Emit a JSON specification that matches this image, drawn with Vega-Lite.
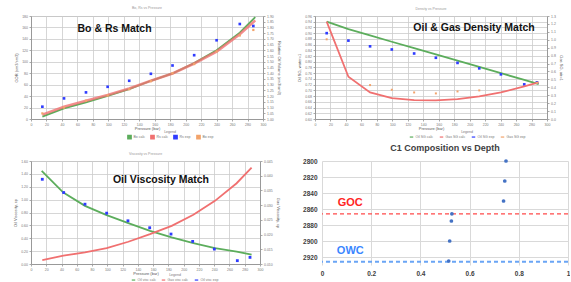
{
  "$schema": "https://vega.github.io/schema/vega-lite/v6.json",
  "background": "white",
  "padding": {"left": 13, "top": 5, "right": 0, "bottom": 0},
  "spacing": 1,
  "bounds": "full",
  "resolve": {"scale": {"x": "independent", "y": "independent", "color": "independent"}, "legend": {"color": "independent"}},
  "config": {
    "font": "Liberation Sans",
    "view": {"stroke": null},
    "axis": {"labelFontSize": 3.5, "titleFontSize": 4, "labelColor": "#777", "titleColor": "#555", "titleFontWeight": "normal", "tickSize": 2, "tickColor": "#aaa", "domainColor": "#999", "gridColor": "#cccccc", "gridWidth": 0.8, "labelPadding": 1.5, "titlePadding": 3, "labelFlush": false, "labelOverlap": false},
    "axisX": {"titlePadding": 1, "labelPadding": 1},
    "legend": {"labelFontSize": 3.5, "titleFontSize": 3.5, "titleFontWeight": "normal", "labelColor": "#777", "titleColor": "#777", "symbolSize": 12, "symbolStrokeWidth": 1.2, "columnPadding": 3, "padding": 0, "direction": "horizontal", "orient": "none", "titleAnchor": "middle", "titleOrient": "top", "titlePadding": 1, "labelOffset": 1.5}
  },
  "vconcat": [
    {
      "hconcat": [
        {
          "width": 232, "height": 103,
          "title": {"text": "Bo, Rs vs Pressure", "fontSize": 3.5, "fontWeight": "normal", "color": "#999", "offset": 4},
          "view": {"stroke": "#bbb"},
          "layer": [
            {
              "data": {"values": [
                {"s": "Rs exp", "p": 14.7, "v": 21.5}, {"s": "Rs exp", "p": 42.7, "v": 36}, {"s": "Rs exp", "p": 71.1, "v": 46.5}, {"s": "Rs exp", "p": 99.1, "v": 56.3}, {"s": "Rs exp", "p": 127, "v": 66.8}, {"s": "Rs exp", "p": 155, "v": 79}, {"s": "Rs exp", "p": 183, "v": 93.5}, {"s": "Rs exp", "p": 211, "v": 111.5}, {"s": "Rs exp", "p": 240, "v": 137.6}, {"s": "Rs exp", "p": 270, "v": 166}, {"s": "Rs exp", "p": 287.5, "v": 162.6}
              ]},
              "mark": {"type": "square", "size": 7, "filled": true, "opacity": 1},
              "encoding": {
                "x": {"field": "p", "type": "quantitative", "title": "Pressure (bar)", "scale": {"domain": [0, 300], "nice": false}, "axis": {"values": [0, 20, 40, 60, 80, 100, 120, 140, 160, 180, 200, 220, 240, 260, 280, 300], "grid": true}},
                "y": {"field": "v", "type": "quantitative", "title": "GOR (sm3/sm3)", "scale": {"domain": [0, 180], "nice": false}, "axis": {"orient": "left", "values": [0, 20, 40, 60, 80, 100, 120, 140, 160, 180], "grid": true}},
                "color": {"field": "s", "type": "nominal", "scale": {"domain": ["Bo calc", "Rs calc", "Rs exp", "Bo exp"], "range": ["#5cad5c", "#f07070", "#2f3cff", "#f2a36b"]}, "legend": {"title": "Legend", "legendX": 96, "legendY": 114}}
              }
            },
            {
              "data": {"values": [
                {"s": "Bo calc", "p": 14.7, "v": 1.02}, {"s": "Bo calc", "p": 42.7, "v": 1.093}, {"s": "Bo calc", "p": 71.1, "v": 1.145}, {"s": "Bo calc", "p": 99.1, "v": 1.203}, {"s": "Bo calc", "p": 127, "v": 1.261}, {"s": "Bo calc", "p": 155, "v": 1.334}, {"s": "Bo calc", "p": 183, "v": 1.398}, {"s": "Bo calc", "p": 211, "v": 1.488}, {"s": "Bo calc", "p": 240, "v": 1.601}, {"s": "Bo calc", "p": 270, "v": 1.755}, {"s": "Bo calc", "p": 290, "v": 1.891},
                {"s": "Rs calc", "p": 14.7, "v": 1.038}, {"s": "Rs calc", "p": 42.7, "v": 1.107}, {"s": "Rs calc", "p": 71.1, "v": 1.16}, {"s": "Rs calc", "p": 99.1, "v": 1.209}, {"s": "Rs calc", "p": 127, "v": 1.267}, {"s": "Rs calc", "p": 155, "v": 1.334}, {"s": "Rs calc", "p": 183, "v": 1.398}, {"s": "Rs calc", "p": 211, "v": 1.485}, {"s": "Rs calc", "p": 240, "v": 1.589}, {"s": "Rs calc", "p": 270, "v": 1.74}, {"s": "Rs calc", "p": 290, "v": 1.862},
                {"s": "Bo exp", "p": 14.7, "v": 1.049}, {"s": "Bo exp", "p": 42.7, "v": 1.1}, {"s": "Bo exp", "p": 71.1, "v": 1.16}, {"s": "Bo exp", "p": 99.1, "v": 1.205}, {"s": "Bo exp", "p": 127, "v": 1.26}, {"s": "Bo exp", "p": 155, "v": 1.33}, {"s": "Bo exp", "p": 183, "v": 1.4}, {"s": "Bo exp", "p": 211, "v": 1.48}, {"s": "Bo exp", "p": 240, "v": 1.59}, {"s": "Bo exp", "p": 270, "v": 1.73}, {"s": "Bo exp", "p": 287.5, "v": 1.778}
              ]},
              "encoding": {
                "x": {"field": "p", "type": "quantitative", "title": "Pressure (bar)", "scale": {"domain": [0, 300], "nice": false}, "axis": {"values": [0, 20, 40, 60, 80, 100, 120, 140, 160, 180, 200, 220, 240, 260, 280, 300], "grid": true}},
                "y": {"field": "v", "type": "quantitative", "title": "Relative Oil Volume (rm3/sm3)", "scale": {"domain": [1.0, 1.9], "nice": false}, "axis": {"orient": "right", "format": ".2f", "values": [1.0, 1.05, 1.1, 1.15, 1.2, 1.25, 1.3, 1.35, 1.4, 1.45, 1.5, 1.55, 1.6, 1.65, 1.7, 1.75, 1.8, 1.85, 1.9], "grid": false}},
                "color": {"field": "s", "type": "nominal", "scale": {"domain": ["Bo calc", "Rs calc", "Rs exp", "Bo exp"], "range": ["#5cad5c", "#f07070", "#2f3cff", "#f2a36b"]}}
              },
              "layer": [
                {"transform": [{"filter": "datum.s == 'Bo calc'"}], "mark": {"type": "line", "strokeWidth": 1.8}},
                {"transform": [{"filter": "datum.s == 'Rs calc'"}], "mark": {"type": "line", "strokeWidth": 2.6, "opacity": 0.8}},
                {"transform": [{"filter": "datum.s == 'Bo exp'"}], "mark": {"type": "square", "size": 5, "filled": true, "opacity": 1}}
              ]
            },
            {"data": {"values": [{"t": "Bo & Rs Match"}]}, "mark": {"type": "text", "fontSize": 10.5, "fontWeight": "bold", "color": "#111", "align": "center", "baseline": "middle"},
             "encoding": {
               "x": {"datum": 108, "type": "quantitative", "title": "Pressure (bar)", "scale": {"domain": [0, 300], "nice": false}, "axis": {"values": [0, 20, 40, 60, 80, 100, 120, 140, 160, 180, 200, 220, 240, 260, 280, 300], "grid": true}},
               "y": {"datum": 157, "type": "quantitative", "scale": {"domain": [0, 180], "nice": false}, "axis": null},
               "text": {"field": "t", "type": "nominal"}}}
          ],
          "resolve": {"scale": {"y": "independent"}}
        },
        {
          "width": 232, "height": 103,
          "title": {"text": "Density vs Pressure", "fontSize": 3.5, "fontWeight": "normal", "color": "#999", "offset": 4},
          "view": {"stroke": "#bbb"},
          "layer": [
            {
              "data": {"values": [
                {"s": "Oil SG calc", "p": 15.1, "v": 0.94}, {"s": "Oil SG calc", "p": 43.2, "v": 0.914}, {"s": "Oil SG calc", "p": 71.2, "v": 0.892}, {"s": "Oil SG calc", "p": 99.3, "v": 0.87}, {"s": "Oil SG calc", "p": 128.2, "v": 0.848}, {"s": "Oil SG calc", "p": 156.3, "v": 0.826}, {"s": "Oil SG calc", "p": 184.3, "v": 0.804}, {"s": "Oil SG calc", "p": 212.4, "v": 0.782}, {"s": "Oil SG calc", "p": 240.4, "v": 0.76}, {"s": "Oil SG calc", "p": 270.6, "v": 0.737}, {"s": "Oil SG calc", "p": 289.2, "v": 0.722},
                {"s": "Oil SG exp", "p": 15.1, "v": 0.9}, {"s": "Oil SG exp", "p": 43.2, "v": 0.874}, {"s": "Oil SG exp", "p": 71.2, "v": 0.854}, {"s": "Oil SG exp", "p": 99.3, "v": 0.843}, {"s": "Oil SG exp", "p": 128.2, "v": 0.829}, {"s": "Oil SG exp", "p": 156.3, "v": 0.814}, {"s": "Oil SG exp", "p": 184.3, "v": 0.796}, {"s": "Oil SG exp", "p": 212.4, "v": 0.777}, {"s": "Oil SG exp", "p": 240.4, "v": 0.756}, {"s": "Oil SG exp", "p": 270.6, "v": 0.721}, {"s": "Oil SG exp", "p": 287, "v": 0.728}
              ]},
              "encoding": {
                "x": {"field": "p", "type": "quantitative", "title": "Pressure (bar)", "scale": {"domain": [0, 300], "nice": false}, "axis": {"values": [0, 20, 40, 60, 80, 100, 120, 140, 160, 180, 200, 220, 240, 260, 280, 300], "grid": true}},
                "y": {"field": "v", "type": "quantitative", "title": "Oil SG, water=1", "scale": {"domain": [0.6, 0.96], "nice": false}, "axis": {"orient": "left", "format": ".2f", "values": [0.6, 0.62, 0.64, 0.66, 0.68, 0.7, 0.72, 0.74, 0.76, 0.78, 0.8, 0.82, 0.84, 0.86, 0.88, 0.9, 0.92, 0.94, 0.96], "grid": true}},
                "color": {"field": "s", "type": "nominal", "scale": {"domain": ["Oil SG calc", "Gas SG calc", "Oil SG exp", "Gas SG exp"], "range": ["#5cad5c", "#f07070", "#2f3cff", "#f2a36b"]}, "legend": {"title": "Legend", "legendX": 94, "legendY": 114}}
              },
              "layer": [
                {"transform": [{"filter": "datum.s == 'Oil SG calc'"}], "mark": {"type": "line", "strokeWidth": 1.8}},
                {"transform": [{"filter": "datum.s == 'Oil SG exp'"}], "mark": {"type": "square", "size": 7, "filled": true, "opacity": 1}}
              ]
            },
            {
              "data": {"values": [
                {"s": "Gas SG calc", "p": 15.1, "v": 1.229}, {"s": "Gas SG calc", "p": 43.2, "v": 0.533}, {"s": "Gas SG calc", "p": 71.2, "v": 0.335}, {"s": "Gas SG calc", "p": 99.3, "v": 0.264}, {"s": "Gas SG calc", "p": 128.2, "v": 0.239}, {"s": "Gas SG calc", "p": 156.3, "v": 0.235}, {"s": "Gas SG calc", "p": 184.3, "v": 0.252}, {"s": "Gas SG calc", "p": 212.4, "v": 0.285}, {"s": "Gas SG calc", "p": 240.4, "v": 0.335}, {"s": "Gas SG calc", "p": 270.6, "v": 0.411}, {"s": "Gas SG calc", "p": 289.2, "v": 0.461},
                {"s": "Gas SG exp", "p": 15.1, "v": 1.006}, {"s": "Gas SG exp", "p": 71.2, "v": 0.428}, {"s": "Gas SG exp", "p": 99.3, "v": 0.369}, {"s": "Gas SG exp", "p": 128.2, "v": 0.335}, {"s": "Gas SG exp", "p": 156.3, "v": 0.323}, {"s": "Gas SG exp", "p": 184.3, "v": 0.348}, {"s": "Gas SG exp", "p": 212.4, "v": 0.361}, {"s": "Gas SG exp", "p": 287, "v": 0.457}
              ]},
              "encoding": {
                "x": {"field": "p", "type": "quantitative", "title": "Pressure (bar)", "scale": {"domain": [0, 300], "nice": false}, "axis": {"values": [0, 20, 40, 60, 80, 100, 120, 140, 160, 180, 200, 220, 240, 260, 280, 300], "grid": true}},
                "y": {"field": "v", "type": "quantitative", "title": "Gas SG, air=1", "scale": {"domain": [0, 1.3], "nice": false}, "axis": {"orient": "right", "format": ".1f", "values": [0, 0.1, 0.2, 0.3, 0.4, 0.5, 0.6, 0.7, 0.8, 0.9, 1.0, 1.1, 1.2, 1.3], "grid": false}},
                "color": {"field": "s", "type": "nominal", "scale": {"domain": ["Oil SG calc", "Gas SG calc", "Oil SG exp", "Gas SG exp"], "range": ["#5cad5c", "#f07070", "#2f3cff", "#f2a36b"]}}
              },
              "layer": [
                {"transform": [{"filter": "datum.s == 'Gas SG calc'"}], "mark": {"type": "line", "strokeWidth": 1.8}},
                {"transform": [{"filter": "datum.s == 'Gas SG exp'"}], "mark": {"type": "square", "size": 4, "filled": true, "opacity": 1}}
              ]
            },
            {"data": {"values": [{"t": "Oil & Gas Density Match"}]}, "mark": {"type": "text", "fontSize": 10.5, "fontWeight": "bold", "color": "#111", "align": "center", "baseline": "middle"},
             "encoding": {
               "x": {"datum": 205.6, "type": "quantitative", "title": "Pressure (bar)", "scale": {"domain": [0, 300], "nice": false}, "axis": {"values": [0, 20, 40, 60, 80, 100, 120, 140, 160, 180, 200, 220, 240, 260, 280, 300], "grid": true}},
               "y": {"datum": 0.918, "type": "quantitative", "scale": {"domain": [0.6, 0.96], "nice": false}, "axis": null},
               "text": {"field": "t", "type": "nominal"}}}
          ],
          "resolve": {"scale": {"y": "independent"}}
        }
      ],
      "spacing": 16,
      "bounds": "full",
      "resolve": {"scale": {"x": "independent", "y": "independent", "color": "independent"}, "legend": {"color": "independent"}}
    },
    {
      "hconcat": [
        {
          "width": 229, "height": 103,
          "title": {"text": "Viscosity vs Pressure", "fontSize": 3.5, "fontWeight": "normal", "color": "#999", "offset": 4},
          "view": {"stroke": "#bbb"},
          "layer": [
            {
              "data": {"values": [
                {"s": "Oil visc calc", "p": 14, "v": 1.445}, {"s": "Oil visc calc", "p": 42.4, "v": 1.11}, {"s": "Oil visc calc", "p": 70.7, "v": 0.903}, {"s": "Oil visc calc", "p": 99.1, "v": 0.759}, {"s": "Oil visc calc", "p": 127.5, "v": 0.635}, {"s": "Oil visc calc", "p": 155.9, "v": 0.516}, {"s": "Oil visc calc", "p": 184.3, "v": 0.413}, {"s": "Oil visc calc", "p": 212.7, "v": 0.325}, {"s": "Oil visc calc", "p": 241, "v": 0.248}, {"s": "Oil visc calc", "p": 269.4, "v": 0.191}, {"s": "Oil visc calc", "p": 289, "v": 0.145},
                {"s": "Oil visc exp", "p": 14.8, "v": 1.316}, {"s": "Oil visc exp", "p": 42.8, "v": 1.11}, {"s": "Oil visc exp", "p": 70.7, "v": 0.929}, {"s": "Oil visc exp", "p": 99.1, "v": 0.79}, {"s": "Oil visc exp", "p": 127, "v": 0.671}, {"s": "Oil visc exp", "p": 155.5, "v": 0.563}, {"s": "Oil visc exp", "p": 183.4, "v": 0.465}, {"s": "Oil visc exp", "p": 211.8, "v": 0.351}, {"s": "Oil visc exp", "p": 240.2, "v": 0.232}, {"s": "Oil visc exp", "p": 270.3, "v": 0.052}, {"s": "Oil visc exp", "p": 286.9, "v": 0.103}
              ]},
              "encoding": {
                "x": {"field": "p", "type": "quantitative", "title": "Pressure (bar)", "scale": {"domain": [0, 300], "nice": false}, "axis": {"values": [0, 20, 40, 60, 80, 100, 120, 140, 160, 180, 200, 220, 240, 260, 280, 300], "grid": true}},
                "y": {"field": "v", "type": "quantitative", "title": "Oil Viscosity, cp", "scale": {"domain": [0, 1.6], "nice": false}, "axis": {"orient": "left", "format": ".2f", "values": [0, 0.2, 0.4, 0.6, 0.8, 1.0, 1.2, 1.4, 1.6], "grid": true}},
                "color": {"field": "s", "type": "nominal", "scale": {"domain": ["Oil visc calc", "Gas visc calc", "Oil visc exp"], "range": ["#5cad5c", "#f07070", "#2f3cff"]}, "legend": {"title": "Legend", "legendX": 100, "legendY": 112}}
              },
              "layer": [
                {"transform": [{"filter": "datum.s == 'Oil visc calc'"}], "mark": {"type": "line", "strokeWidth": 1.8}},
                {"transform": [{"filter": "datum.s == 'Oil visc exp'"}], "mark": {"type": "square", "size": 8, "filled": true, "opacity": 1}}
              ]
            },
            {
              "data": {"values": [
                {"s": "Gas visc calc", "p": 14.8, "v": 0.01135}, {"s": "Gas visc calc", "p": 42.4, "v": 0.01282}, {"s": "Gas visc calc", "p": 70.7, "v": 0.01395}, {"s": "Gas visc calc", "p": 99.1, "v": 0.01542}, {"s": "Gas visc calc", "p": 127.5, "v": 0.01756}, {"s": "Gas visc calc", "p": 155.9, "v": 0.02016}, {"s": "Gas visc calc", "p": 184.3, "v": 0.02298}, {"s": "Gas visc calc", "p": 212.7, "v": 0.02671}, {"s": "Gas visc calc", "p": 241, "v": 0.03145}, {"s": "Gas visc calc", "p": 269.4, "v": 0.03744}, {"s": "Gas visc calc", "p": 289, "v": 0.04274}
              ]},
              "mark": {"type": "line", "strokeWidth": 1.8},
              "encoding": {
                "x": {"field": "p", "type": "quantitative", "title": "Pressure (bar)", "scale": {"domain": [0, 300], "nice": false}, "axis": {"values": [0, 20, 40, 60, 80, 100, 120, 140, 160, 180, 200, 220, 240, 260, 280, 300], "grid": true}},
                "y": {"field": "v", "type": "quantitative", "title": "Gas Viscosity, cp", "scale": {"domain": [0.01, 0.045], "nice": false, "zero": false}, "axis": {"orient": "right", "format": ".3f", "values": [0.01, 0.015, 0.02, 0.025, 0.03, 0.035, 0.04, 0.045], "grid": false}},
                "color": {"field": "s", "type": "nominal", "scale": {"domain": ["Oil visc calc", "Gas visc calc", "Oil visc exp"], "range": ["#5cad5c", "#f07070", "#2f3cff"]}}
              }
            },
            {"data": {"values": [{"t": "Oil Viscosity Match"}]}, "mark": {"type": "text", "fontSize": 10.5, "fontWeight": "bold", "color": "#111", "align": "center", "baseline": "middle"},
             "encoding": {
               "x": {"datum": 170.3, "type": "quantitative", "title": "Pressure (bar)", "scale": {"domain": [0, 300], "nice": false}, "axis": {"values": [0, 20, 40, 60, 80, 100, 120, 140, 160, 180, 200, 220, 240, 260, 280, 300], "grid": true}},
               "y": {"datum": 1.305, "type": "quantitative", "scale": {"domain": [0, 1.6], "nice": false}, "axis": null},
               "text": {"field": "t", "type": "nominal"}}}
          ],
          "resolve": {"scale": {"y": "independent"}}
        },
        {
          "width": 246, "height": 104,
          "title": {"text": "C1 Composition vs Depth", "fontSize": 9, "fontWeight": "bold", "color": "#404040", "offset": 5},
          "encoding": {
            "y": {"field": "depth", "type": "quantitative", "scale": {"domain": [2800, 2930], "reverse": true, "nice": false, "zero": false}, "axis": {"values": [2800, 2820, 2840, 2860, 2880, 2900, 2920], "format": "d", "title": null, "domain": false, "ticks": false, "grid": true, "gridColor": "#d9d9d9", "gridWidth": 1, "labelFontSize": 6.5, "labelFontWeight": "bold", "labelColor": "#404040", "labelPadding": 5}}
          },
          "layer": [
            {
              "data": {"values": [{"contact": "GOC", "depth": 2866}, {"contact": "OWC", "depth": 2926}]},
              "layer": [
                {"transform": [{"filter": "datum.contact == 'GOC'"}], "mark": {"type": "rule", "color": "#ff4a4a", "strokeWidth": 1.3, "strokeDash": [4, 3]}, "encoding": {}},
                {"transform": [{"filter": "datum.contact == 'OWC'"}], "mark": {"type": "rule", "color": "#6aa5f5", "strokeWidth": 2, "strokeDash": [4, 3]}, "encoding": {}}
              ]
            },
            {
              "data": {"values": [{"c1": 0.748, "depth": 2800}, {"c1": 0.743, "depth": 2825}, {"c1": 0.738, "depth": 2850}, {"c1": 0.528, "depth": 2866}, {"c1": 0.526, "depth": 2875}, {"c1": 0.519, "depth": 2900}, {"c1": 0.515, "depth": 2925}]},
              "mark": {"type": "circle", "size": 14, "color": "#4472c4", "opacity": 1},
              "encoding": {
                "x": {"field": "c1", "type": "quantitative", "scale": {"domain": [0, 1], "nice": false}, "axis": {"values": [0, 0.2, 0.4, 0.6, 0.8, 1], "format": "~g", "title": null, "domain": false, "ticks": false, "grid": true, "gridColor": "#d9d9d9", "gridWidth": 1, "labelFontSize": 6.5, "labelFontWeight": "bold", "labelColor": "#404040", "labelPadding": 5}}
              }
            },
            {
              "data": {"values": [{"contact": "GOC", "depth": 2866}, {"contact": "OWC", "depth": 2926}]},
              "mark": {"type": "text", "fontSize": 11, "fontWeight": "bold", "dy": -11, "align": "center", "baseline": "middle"},
              "encoding": {
                "x": {"datum": 0.115},
                "text": {"field": "contact"},
                "color": {"field": "contact", "type": "nominal", "scale": {"domain": ["GOC", "OWC"], "range": ["#ff2424", "#3a86ff"]}, "legend": null}
              }
            }
          ]
        }
      ],
      "spacing": 22,
      "bounds": "full",
      "resolve": {"scale": {"x": "independent", "y": "independent", "color": "independent"}, "legend": {"color": "independent"}}
    }
  ]
}
